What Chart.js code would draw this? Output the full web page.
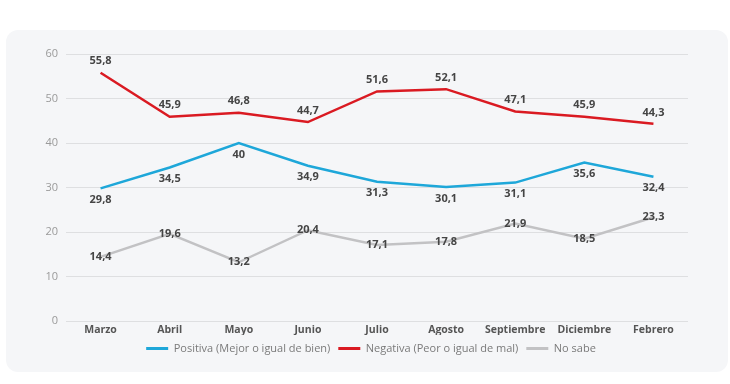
<!DOCTYPE html>
<html>
<head>
<meta charset="utf-8">
<script src="https://cdn.jsdelivr.net/npm/chart.js@4"></script>
<style>
  html, body { margin: 0; padding: 0; background: #ffffff; }
  #wrap { position: relative; width: 730px; height: 384px; overflow: hidden; }
  #panel { position: absolute; left: 6px; top: 30px; width: 722px; height: 342px; background: #f5f6f8; border-radius: 12px; }
  #myChart { position: absolute; left: 0; top: 0; }
</style>
</head>
<body>
<div id="wrap">
  <div id="panel"></div>
  <canvas id="myChart" width="730" height="384"></canvas>
</div>
<script>
const months = ['Marzo', 'Abril', 'Mayo', 'Junio', 'Julio', 'Agosto', 'Septiembre', 'Diciembre', 'Febrero'];
const positiva = [29.8, 34.5, 40, 34.9, 31.3, 30.1, 31.1, 35.6, 32.4];
const negativa = [55.8, 45.9, 46.8, 44.7, 51.6, 52.1, 47.1, 45.9, 44.3];
const noSabe = [14.4, 19.6, 13.2, 20.4, 17.1, 17.8, 21.9, 18.5, 23.3];
const yTicks = [0, 10, 20, 30, 40, 50, 60];

const FONT = '"Open Sans", "Noto Sans", sans-serif';

// where each series puts its value labels: -1 above, 1 below, 0 on the point
const labelSide = [1, -1, 0];

const valueLabels = {
    id: 'valueLabels',
    afterDatasetsDraw(chart) {
        const ctx = chart.ctx;
        ctx.save();
        ctx.font = 'bold 11px ' + FONT;
        ctx.fillStyle = '#454545';
        ctx.textAlign = 'center';
        ctx.textBaseline = 'middle';
        chart.data.datasets.forEach((ds, i) => {
            const meta = chart.getDatasetMeta(i);
            meta.data.forEach((pt, j) => {
                const txt = String(ds.data[j]).replace('.', ',');
                ctx.fillText(txt, pt.x, pt.y + labelSide[i] * 11.5);
            });
        });
        ctx.restore();
    }
};

// the legend in the original sits a bit right of the plot centre
const legendShift = {
    id: 'legendShift',
    afterLayout(chart) {
        if (chart.legend) {
            chart.legend.left += 27;
            chart.legend.right += 27;
        }
    }
};

const ctx = document.getElementById('myChart').getContext('2d');
new Chart(ctx, {
    type: 'line',
    data: {
        labels: months,
        datasets: [
            { label: 'Positiva (Mejor o igual de bien)', data: positiva, borderColor: '#1ea7d9', backgroundColor: '#1ea7d9' },
            { label: 'Negativa (Peor o igual de mal)', data: negativa, borderColor: '#da1a22', backgroundColor: '#da1a22' },
            { label: 'No sabe', data: noSabe, borderColor: '#c2c2c4', backgroundColor: '#c2c2c4' }
        ]
    },
    options: {
        responsive: false,
        animation: false,
        elements: {
            line: { borderWidth: 2.5, tension: 0, fill: false },
            point: { radius: 0, hoverRadius: 0 }
        },
        layout: { padding: { left: 0, right: 42, top: 54, bottom: 20 } },
        plugins: {
            tooltip: { enabled: false },
            legend: {
                position: 'bottom',
                labels: {
                    boxWidth: 22,
                    boxHeight: 3,
                    padding: 8,
                    color: '#7a7a7a',
                    font: { family: FONT, size: 11 },
                    generateLabels(chart) {
                        const items = Chart.defaults.plugins.legend.labels.generateLabels(chart);
                        items.forEach(it => { it.lineWidth = 0; });
                        return items;
                    }
                }
            }
        },
        scales: {
            x: {
                offset: true,
                afterFit(scale) { scale.height = 14; },
                grid: { display: false, drawTicks: false },
                border: { display: false },
                ticks: { color: '#555555', padding: 3, font: { family: FONT, size: 10.5, weight: 'bold' } }
            },
            y: {
                min: 0,
                max: 60,
                afterFit(scale) { scale.width = 66; },
                afterBuildTicks(scale) { scale.ticks = yTicks.map(v => ({ value: v })); },
                grid: { color: '#dedfe1', drawTicks: false },
                border: { display: false },
                ticks: { color: '#9a9a9a', padding: 8, font: { family: FONT, size: 11 } }
            }
        }
    },
    plugins: [valueLabels, legendShift]
});
</script>
</body>
</html>
